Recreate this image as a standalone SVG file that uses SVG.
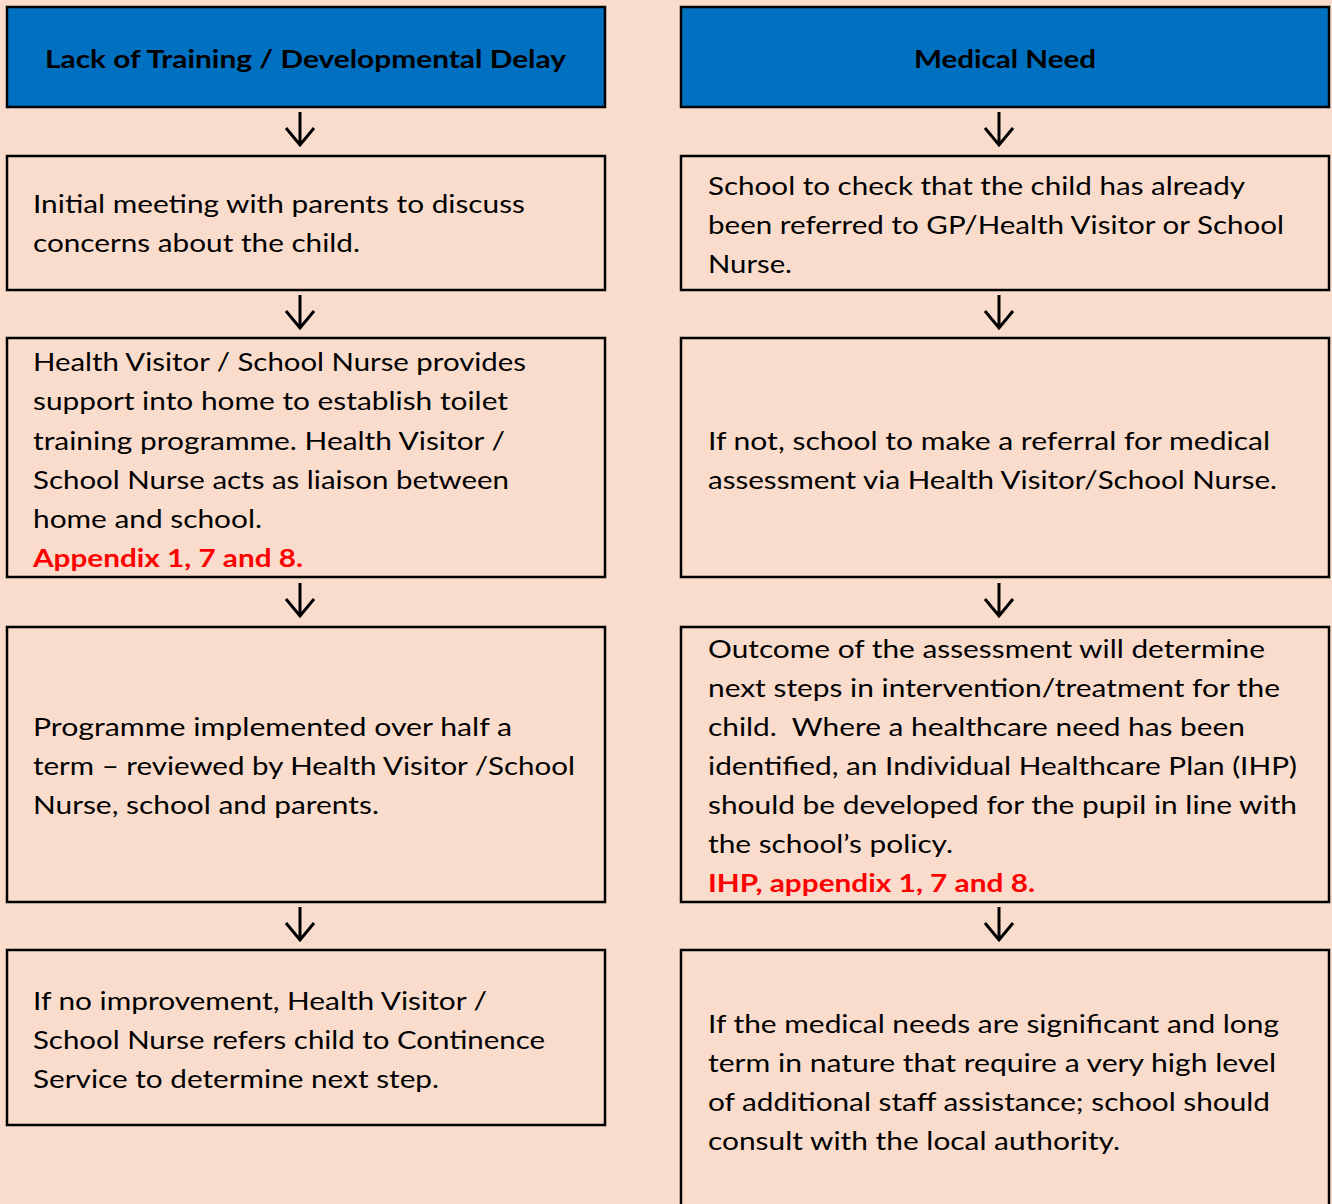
<svg xmlns="http://www.w3.org/2000/svg" width="1332" height="1204" viewBox="0 0 1332 1204">
<style>
.bg{fill:#FADCCC}
.box{fill:#FADCCC;stroke:#000;stroke-width:2.5}
.hdr{fill:#0070C0;stroke:#000;stroke-width:2.5}
text{font-family:Lato,"Open Sans","Liberation Sans",sans-serif;font-size:25.5px;fill:#000}
.h{font-weight:bold;text-anchor:middle}
.r{font-weight:bold;fill:#FF0000}
.arr{fill:none;stroke:#000;stroke-width:3}
</style>
<rect class="bg" x="0" y="0" width="1332" height="1204"/>
<g id="connectors">
<path class="arr" d="M300,112V145M286,128L300,145L314,128"/>
<path class="arr" d="M300,295V328M286,311L300,328L314,311"/>
<path class="arr" d="M300,583V616M286,599L300,616L314,599"/>
<path class="arr" d="M300,907V940M286,923L300,940L314,923"/>
<path class="arr" d="M999,112V145M985,128L999,145L1013,128"/>
<path class="arr" d="M999,295V328M985,311L999,328L1013,311"/>
<path class="arr" d="M999,583V616M985,599L999,616L1013,599"/>
<path class="arr" d="M999,907V940M985,923L999,940L1013,923"/>
</g>
<g id="hdr-left">
<rect class="hdr" x="7" y="7" width="598" height="100"/>
<text class="h" x="305.5" y="68" textLength="521" lengthAdjust="spacingAndGlyphs">Lack of Training / Developmental Delay</text>
</g>
<g id="hdr-right">
<rect class="hdr" x="681" y="7" width="648" height="100"/>
<text class="h" x="1005" y="68" textLength="182" lengthAdjust="spacingAndGlyphs">Medical Need</text>
</g>
<g id="left-1">
<rect class="box" x="7" y="156" width="598" height="134"/>
<text x="33" y="213" textLength="492" lengthAdjust="spacingAndGlyphs">Initial meeting with parents to discuss</text>
<text x="33" y="252" textLength="327" lengthAdjust="spacingAndGlyphs">concerns about the child.</text>
</g>
<g id="left-2">
<rect class="box" x="7" y="338" width="598" height="239"/>
<text x="33" y="371" textLength="493" lengthAdjust="spacingAndGlyphs">Health Visitor / School Nurse provides</text>
<text x="33" y="410" textLength="475" lengthAdjust="spacingAndGlyphs">support into home to establish toilet</text>
<text x="33" y="450" textLength="472" lengthAdjust="spacingAndGlyphs">training programme. Health Visitor /</text>
<text x="33" y="489" textLength="476" lengthAdjust="spacingAndGlyphs">School Nurse acts as liaison between</text>
<text x="33" y="528" textLength="229" lengthAdjust="spacingAndGlyphs">home and school.</text>
<text class="r" x="33" y="567" textLength="270" lengthAdjust="spacingAndGlyphs">Appendix 1, 7 and 8.</text>
</g>
<g id="left-3">
<rect class="box" x="7" y="627" width="598" height="275"/>
<text x="33" y="736" textLength="479" lengthAdjust="spacingAndGlyphs">Programme implemented over half a</text>
<text x="33" y="775" textLength="542" lengthAdjust="spacingAndGlyphs">term – reviewed by Health Visitor /School</text>
<text x="33" y="814" textLength="346" lengthAdjust="spacingAndGlyphs">Nurse, school and parents.</text>
</g>
<g id="left-4">
<rect class="box" x="7" y="950" width="598" height="175"/>
<text x="33" y="1010" textLength="454" lengthAdjust="spacingAndGlyphs">If no improvement, Health Visitor /</text>
<text x="33" y="1049" textLength="512" lengthAdjust="spacingAndGlyphs">School Nurse refers child to Continence</text>
<text x="33" y="1088" textLength="406" lengthAdjust="spacingAndGlyphs">Service to determine next step.</text>
</g>
<g id="right-1">
<rect class="box" x="681" y="156" width="648" height="134"/>
<text x="708" y="195" textLength="537" lengthAdjust="spacingAndGlyphs">School to check that the child has already</text>
<text x="708" y="234" textLength="576" lengthAdjust="spacingAndGlyphs">been referred to GP/Health Visitor or School</text>
<text x="708" y="273" textLength="84" lengthAdjust="spacingAndGlyphs">Nurse.</text>
</g>
<g id="right-2">
<rect class="box" x="681" y="338" width="648" height="239"/>
<text x="708" y="450" textLength="562" lengthAdjust="spacingAndGlyphs">If not, school to make a referral for medical</text>
<text x="708" y="489" textLength="569" lengthAdjust="spacingAndGlyphs">assessment via Health Visitor/School Nurse.</text>
</g>
<g id="right-3">
<rect class="box" x="681" y="627" width="648" height="275"/>
<text x="708" y="658" textLength="557" lengthAdjust="spacingAndGlyphs">Outcome of the assessment will determine</text>
<text x="708" y="697" textLength="572" lengthAdjust="spacingAndGlyphs">next steps in intervention/treatment for the</text>
<text x="708" y="736" textLength="537" lengthAdjust="spacingAndGlyphs" xml:space="preserve">child.  Where a healthcare need has been</text>
<text x="708" y="775" textLength="589" lengthAdjust="spacingAndGlyphs">identified, an Individual Healthcare Plan (IHP)</text>
<text x="708" y="814" textLength="589" lengthAdjust="spacingAndGlyphs">should be developed for the pupil in line with</text>
<text x="708" y="853" textLength="245" lengthAdjust="spacingAndGlyphs">the school’s policy.</text>
<text class="r" x="708" y="892" textLength="327" lengthAdjust="spacingAndGlyphs">IHP, appendix 1, 7 and 8.</text>
</g>
<g id="right-4">
<rect class="box" x="681" y="950" width="648" height="270"/>
<text x="708" y="1033" textLength="571" lengthAdjust="spacingAndGlyphs">If the medical needs are significant and long</text>
<text x="708" y="1072" textLength="568" lengthAdjust="spacingAndGlyphs">term in nature that require a very high level</text>
<text x="708" y="1111" textLength="562" lengthAdjust="spacingAndGlyphs">of additional staff assistance; school should</text>
<text x="708" y="1150" textLength="412" lengthAdjust="spacingAndGlyphs">consult with the local authority.</text>
</g>
</svg>
